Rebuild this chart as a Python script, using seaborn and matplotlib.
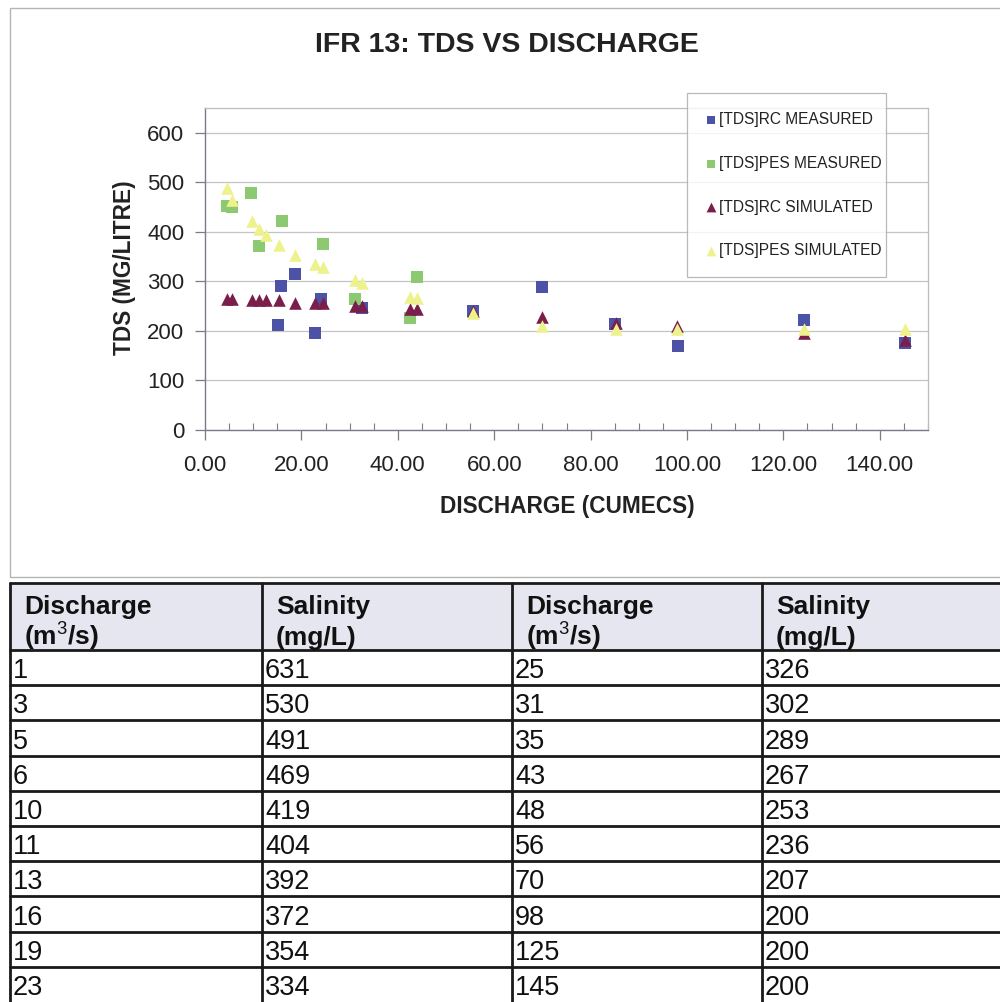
import matplotlib
matplotlib.use("Agg")
import matplotlib.pyplot as plt
from matplotlib import font_manager
from matplotlib.ticker import MultipleLocator, FormatStrFormatter
from matplotlib.patches import Rectangle
import seaborn as sns

# ---------------- data ----------------
rc_meas_x = [15.2, 15.8, 18.7, 22.8, 24.0, 32.5, 55.5, 70.0, 85.1, 98.1, 124.3, 145.2]
rc_meas_y = [212, 291, 315, 195, 264, 247, 241, 288, 214, 170, 222, 176]

pes_meas_x = [4.5, 5.7, 9.5, 11.2, 15.9, 24.5, 31.1, 42.5, 44.0]
pes_meas_y = [452, 450, 478, 372, 421, 375, 264, 227, 308]

sim_x = [4.5, 5.7, 9.7, 11.1, 12.7, 15.4, 18.7, 22.8, 24.4, 31.1, 32.5,
         42.5, 44.0, 55.7, 70.0, 85.3, 98.0, 124.3, 145.2]
rc_sim_y = [264, 264, 262, 262, 262, 262, 257, 257, 257, 250, 250,
            244, 244, 241, 228, 216, 209, 195, 182]
pes_sim_y = [488, 465, 421, 405, 394, 374, 354, 335, 329, 303, 296,
             268, 266, 237, 209, 204, 203, 203, 203]

series_labels = ["[TDS]RC MEASURED", "[TDS]PES MEASURED",
                 "[TDS]RC SIMULATED", "[TDS]PES SIMULATED"]

header_line1 = ["Discharge", "Salinity", "Discharge", "Salinity"]
header_line2 = ["(m$^3$/s)", "(mg/L)", "(m$^3$/s)", "(mg/L)"]
discharge_1 = [1, 3, 5, 6, 10, 11, 13, 16, 19, 23]
salinity_1 = [631, 530, 491, 469, 419, 404, 392, 372, 354, 334]
discharge_2 = [25, 31, 35, 43, 48, 56, 70, 98, 125, 145]
salinity_2 = [326, 302, 289, 267, 253, 236, 207, 200, 200, 200]

# ---------------- style ----------------
sns.set_theme(style="white")
names = {f.name for f in font_manager.fontManager.ttflist}
base = "Liberation Sans" if "Liberation Sans" in names else "DejaVu Sans"
plt.rcParams["font.family"] = [base, "DejaVu Sans"]
plt.rcParams["mathtext.fontset"] = "custom"
plt.rcParams["mathtext.rm"] = base
plt.rcParams["mathtext.bf"] = base + ":bold"

W, H = 1000, 1002
fig = plt.figure(figsize=(W / 100, H / 100), dpi=100)
fig.patch.set_facecolor("white")

def fx(px):
    return px / W

def fy(py):
    return 1 - py / H

# chart area border
fig.add_artist(Rectangle((fx(10), fy(577)), fx(1005) - fx(10), fy(8) - fy(577),
                         transform=fig.transFigure, fill=False,
                         edgecolor="#b4b4b4", linewidth=1.0))

ax_left, ax_right, ax_top, ax_bottom = 205, 928, 108, 430
ax = fig.add_axes([fx(ax_left), fy(ax_bottom), fx(ax_right - ax_left),
                   (ax_bottom - ax_top) / H])

blue = "#4c52a6"
green = "#8dc971"
maroon = "#7a1f4c"
yellow = "#eef28c"

sns.scatterplot(x=rc_meas_x, y=rc_meas_y, marker="s", color=blue, s=66,
                linewidth=0, label=series_labels[0], ax=ax, zorder=3)
sns.scatterplot(x=pes_meas_x, y=pes_meas_y, marker="s", color=green, s=66,
                linewidth=0, label=series_labels[1], ax=ax, zorder=3)
sns.scatterplot(x=sim_x, y=rc_sim_y, marker="^", color=maroon, s=82,
                linewidth=0, label=series_labels[2], ax=ax, zorder=4)
sns.scatterplot(x=sim_x, y=pes_sim_y, marker="^", color=yellow, s=82,
                linewidth=0, label=series_labels[3], ax=ax, zorder=4)

ax.set_xlim(0, 150)
ax.set_ylim(0, 650)
ax.xaxis.set_major_locator(MultipleLocator(20))
ax.xaxis.set_minor_locator(MultipleLocator(5))
ax.xaxis.set_major_formatter(FormatStrFormatter("%.2f"))
ax.set_yticks([0, 100, 200, 300, 400, 500, 600])
ax.grid(axis="y", color="#c4c4c4", linewidth=0.9)
ax.set_axisbelow(True)
for s in ["left", "bottom"]:
    ax.spines[s].set_color("#7a7a8a")
    ax.spines[s].set_linewidth(1.0)
for s in ["top", "right"]:
    ax.spines[s].set_color("#bcbcbc")
    ax.spines[s].set_linewidth(0.9)

ax.tick_params(axis="x", which="major", direction="out", length=7, width=0.9,
               color="#7a7a8a", pad=11, labelsize=16, labelcolor="#222222",
               bottom=True)
ax.tick_params(axis="x", which="minor", direction="in", length=5, width=0.8,
               color="#7a7a8a", bottom=True)
ax.tick_params(axis="y", which="major", direction="out", length=7, width=0.9,
               color="#7a7a8a", pad=8, labelsize=16, labelcolor="#222222",
               left=True)

ax.set_xlabel("")
ax.set_ylabel("")

fig.text(fx(507), fy(45), "IFR 13: TDS VS DISCHARGE", ha="center", va="center",
         fontsize=20.5, fontweight="bold", color="#222222")
fig.text(fx(567), fy(506), "DISCHARGE (CUMECS)", ha="center", va="center",
         fontsize=16.3, fontweight="bold", color="#222222")
fig.text(fx(124), fy(268), "TDS (MG/LITRE)", ha="center", va="center",
         rotation=90, fontsize=16.3, fontweight="bold", color="#222222")

ax_w = ax_right - ax_left
ax_h = ax_bottom - ax_top
leg_x0 = (687 - ax_left) / ax_w
leg_w = (886 - 687) / ax_w
leg_top = (ax_bottom - 93) / ax_h
leg = ax.legend(loc="upper left", mode="expand",
                bbox_to_anchor=(leg_x0, leg_top - 0.5, leg_w, 0.5),
                frameon=True, fancybox=False, fontsize=11.2,
                labelspacing=1.86, handletextpad=0.15, handlelength=0.7,
                borderpad=1.2, borderaxespad=0, markerscale=0.78,
                labelcolor="#222222")
leg.get_frame().set_edgecolor("#a8a8a8")
leg.get_frame().set_linewidth(0.9)

# ---------------- table ----------------
tab = fig.add_axes([0, 0, 1, 1], zorder=-1)
tab.set_xlim(0, W)
tab.set_ylim(H, 0)
tab.set_axis_off()
tab.patch.set_alpha(0)

col_x = [10, 262, 512, 762]
header_top, header_bot = 583, 650
row_h = 35.2
n_rows = len(discharge_1)

tab.add_patch(Rectangle((10, header_top), W - 10, header_bot - header_top,
                        facecolor="#e6e6f0", edgecolor="none"))
lw = 2.0
lc = "#1a1a1a"
tab.plot([10, W], [header_top, header_top], color=lc, lw=lw)
tab.plot([10, W], [header_bot, header_bot], color=lc, lw=lw)
for i in range(1, n_rows):
    y = header_bot + i * row_h
    tab.plot([10, W], [y, y], color=lc, lw=lw)
for x in col_x:
    tab.plot([x, x], [header_top, H], color=lc, lw=lw)

for j in range(4):
    tab.text(col_x[j] + 14, 614, header_line1[j], ha="left", va="baseline",
             fontsize=19, fontweight="bold", color="#111111")
    tab.text(col_x[j] + 14, 645, header_line2[j], ha="left", va="baseline",
             fontsize=19, fontweight="bold", color="#111111")

columns = [discharge_1, salinity_1, discharge_2, salinity_2]
for j, col in enumerate(columns):
    for i, v in enumerate(col):
        yb = header_bot + (i + 1) * row_h - 7
        tab.text(col_x[j] + 3, yb, str(v), ha="left", va="baseline",
                 fontsize=19.5, color="#111111")

fig.savefig("out.png", dpi=100)
